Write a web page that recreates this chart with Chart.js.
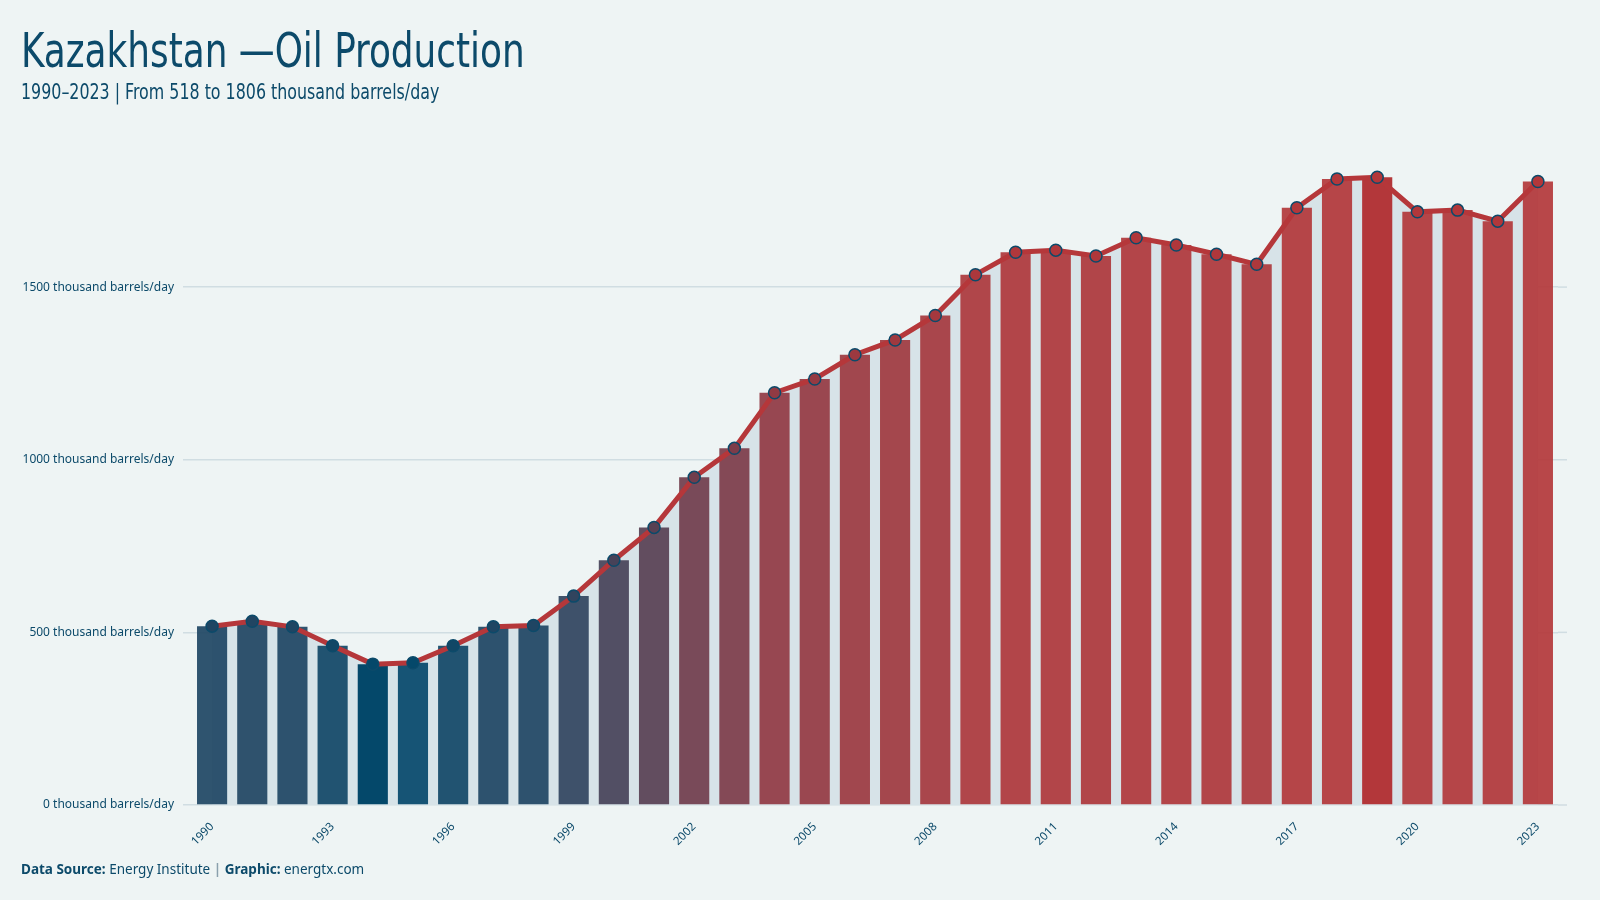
<!DOCTYPE html>
<html>
<head>
<meta charset="utf-8">
<script src="https://cdn.jsdelivr.net/npm/chart.js@4.4.1/dist/chart.umd.min.js"></script>
<style>
  html, body { margin: 0; padding: 0; background: #eef4f4; }
  #wrap { position: relative; width: 1600px; height: 900px; overflow: hidden; }
  #chart { position: absolute; left: 0; top: 0; }
  .txt { position: absolute; left: 21px; color: #0c4a6a; white-space: nowrap; transform-origin: 0 50%; }
  #title { top: 22px; font: 48px "DejaVu Sans Condensed", sans-serif; line-height: 56px; transform: scaleX(0.83); }
  #subtitle { top: 80px; font: 21px "DejaVu Sans Condensed", sans-serif; line-height: 24px; transform: scaleX(0.84); }
  #footer { top: 860px; font: 13.5px "Noto Sans", sans-serif; line-height: 18px; }
  #footer b { font-weight: 700; }
  #footer .sep { color: #8aa0ad; font-weight: 700; }
</style>
</head>
<body>
<div id="wrap">
  <canvas id="chart" width="1600" height="900"></canvas>
  <div class="txt" id="title">Kazakhstan —Oil Production</div>
  <div class="txt" id="subtitle">1990–2023 | From 518 to 1806 thousand barrels/day</div>
  <div class="txt" id="footer"><b>Data Source:</b> Energy Institute <span class="sep">|</span> <b>Graphic:</b> energtx.com</div>
</div>
<script>
// data (thousand barrels/day)
const years = ['1990','1991','1992','1993','1994','1995','1996','1997','1998','1999',
  '2000','2001','2002','2003','2004','2005','2006','2007','2008','2009',
  '2010','2011','2012','2013','2014','2015','2016','2017','2018','2019',
  '2020','2021','2022','2023'];
const production = [518, 532, 516, 461, 408, 412, 461, 516, 520, 605,
  709, 804, 949, 1033, 1194, 1234, 1304, 1347, 1418, 1536,
  1601, 1607, 1590, 1643, 1622, 1595, 1566, 1730, 1813, 1818,
  1718, 1723, 1691, 1806];
const yTicks = [0, 500, 1000, 1500];

// colour ramp blue -> red by value
const lo = [4, 72, 106], hi = [179, 55, 58];
const vMin = Math.min(...production), vMax = Math.max(...production);
function ramp(v, a) {
  let t = (v - vMin) / (vMax - vMin);
  t = 1 - (1 - t) * (1 - t);
  const c = lo.map((x, i) => Math.round(x + (hi[i] - x) * t));
  return `rgba(${c[0]},${c[1]},${c[2]},${a})`;
}
const barColors = production.map(v => ramp(v, (v === vMin || v === vMax) ? 1 : 0.92));
const dotColors = production.map(v => ramp(v, 1));

const ink = '#0c4a6a';
const gridColor = '#d0dde2';

// grid lines run a little past the last bar on the right
const gridTail = {
  id: 'gridTail',
  beforeDatasetsDraw(chart) {
    const { ctx, chartArea, scales } = chart;
    ctx.save();
    ctx.strokeStyle = gridColor;
    ctx.lineWidth = 1.5;
    yTicks.forEach(v => {
      const y = scales.y.getPixelForValue(v);
      ctx.beginPath();
      ctx.moveTo(chartArea.right, y);
      ctx.lineTo(chartArea.right + 9, y);
      ctx.stroke();
    });
    ctx.restore();
  }
};

new Chart(document.getElementById('chart'), {
  data: {
    labels: years,
    datasets: [
      {
        type: 'line',
        data: production,
        order: 0,
        borderColor: '#b5373a',
        borderWidth: 5,
        tension: 0,
        fill: 'origin',
        backgroundColor: '#d7e3e8',
        pointRadius: 6,
        pointBackgroundColor: dotColors,
        pointBorderColor: ink,
        pointBorderWidth: 1.5
      },
      {
        type: 'bar',
        data: production,
        order: 1,
        backgroundColor: barColors,
        barPercentage: 0.75,
        categoryPercentage: 1
      }
    ]
  },
  plugins: [gridTail],
  options: {
    responsive: false,
    animation: false,
    layout: { padding: { top: 149, right: 42, bottom: 0, left: 0 } },
    plugins: {
      legend: { display: false },
      tooltip: { enabled: false },
      filler: { drawTime: 'beforeDatasetsDraw' }
    },
    scales: {
      x: {
        offset: true,
        grid: { display: false },
        border: { display: false },
        ticks: {
          autoSkip: false,
          minRotation: 45,
          maxRotation: 45,
          padding: 7,
          color: ink,
          font: { family: '"Noto Sans", sans-serif', size: 11.5 },
          callback: (v, i) => (i % 3 === 0 ? years[i] : '')
        },
        afterFit: s => { s.height = 95; }
      },
      y: {
        min: 0,
        max: 1900,
        border: { display: false },
        grid: { color: gridColor, lineWidth: 1.5, tickLength: 9, drawTicks: true },
        ticks: {
          stepSize: 500,
          padding: 9,
          color: ink,
          font: { family: '"Noto Sans", sans-serif', size: 12 },
          callback: v => v + ' thousand barrels/day'
        },
        afterBuildTicks: s => { s.ticks = yTicks.map(v => ({ value: v })); },
        afterFit: s => { s.width = 192; }
      }
    }
  }
});
</script>
</body>
</html>
